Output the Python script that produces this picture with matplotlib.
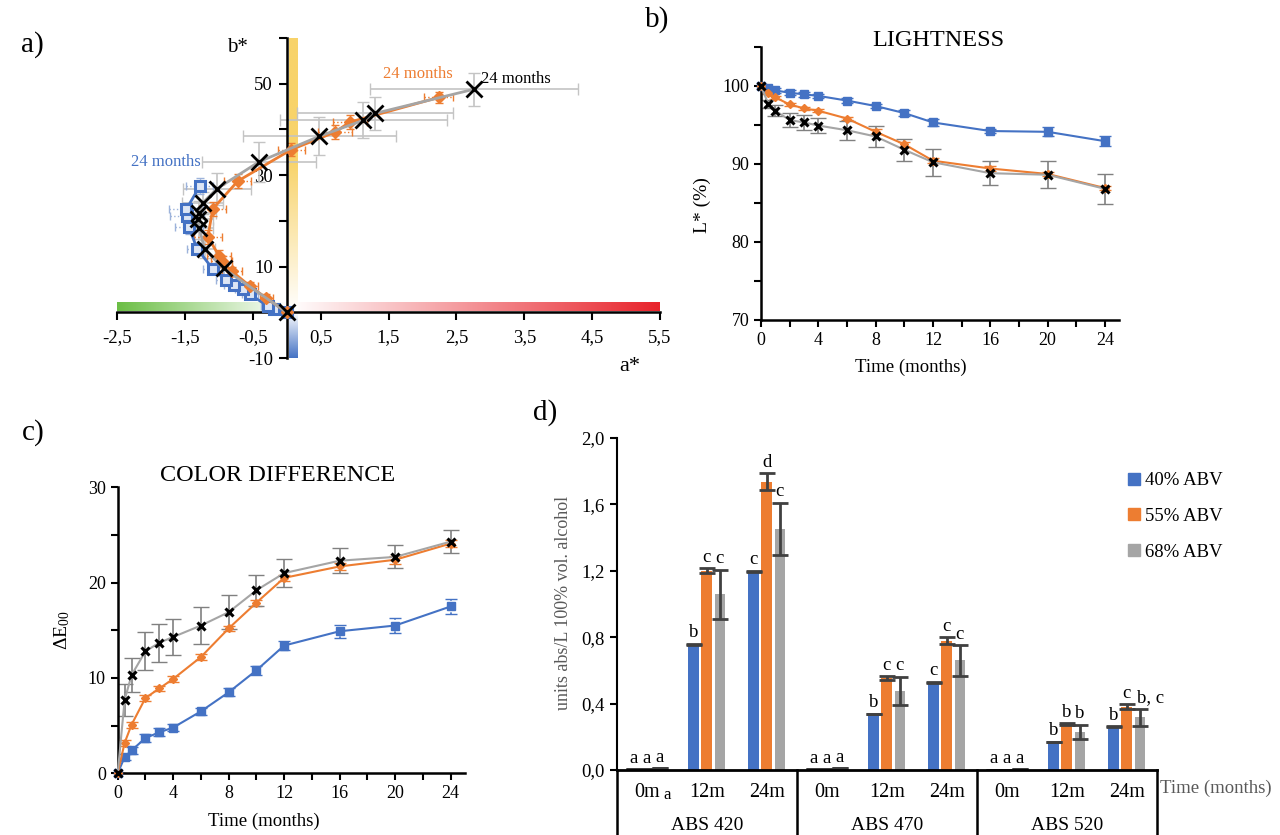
import matplotlib
matplotlib.use('Agg')
import matplotlib.pyplot as plt
import numpy as np
from matplotlib.colors import to_rgb
from matplotlib.lines import Line2D
from matplotlib.ticker import FixedLocator, FuncFormatter
import matplotlib.transforms as mtransforms

plt.rcParams['font.family'] = ['Liberation Serif', 'DejaVu Serif']
plt.rcParams['mathtext.fontset'] = 'custom'
plt.rcParams['mathtext.rm'] = 'Liberation Serif'
plt.rcParams['mathtext.it'] = 'Liberation Serif:italic'

BLUE = '#4472C4'
ORANGE = '#ED7D31'
GRAY = '#A5A5A5'

# ---------------- data ----------------
months = [0, 0.5, 1, 2, 3, 4, 6, 8, 10, 12, 16, 20, 24]

# panel a: a*, b* trajectories
a40 = [0, -0.18, -0.28, -0.54, -0.64, -0.77, -0.89, -1.09, -1.32, -1.44, -1.47, -1.48, -1.28]
b40 = [0, 0.7, 1.4, 3.9, 5.0, 6.0, 7.0, 9.5, 13.9, 18.6, 21.0, 22.5, 27.6]
a55 = [0, -0.30, -0.54, -0.81, -0.96, -1.00, -1.16, -1.09, -0.72, 0.07, 0.71, 0.93, 2.24]
b55 = [0, 3.1, 5.7, 9.0, 11.2, 12.4, 16.5, 22.6, 28.7, 35.6, 39.4, 41.6, 47.0]
a68 = [0, -0.93, -1.21, -1.29, -1.31, -1.29, -1.24, -1.03, -0.41, 0.48, 1.13, 1.30, 2.76]
b68 = [0, 9.6, 13.8, 18.5, 20.3, 21.8, 23.9, 27.0, 32.9, 38.5, 42.0, 43.5, 48.8]
a40_err = [0, 0.08, 0.10, 0.12, 0.12, 0.15, 0.15, 0.15, 0.15, 0.20, 0.25, 0.25, 0.20]
b40_err = [0, 0.5, 0.6, 0.8, 0.8, 1.0, 1.0, 1.2, 1.2, 1.5, 1.5, 1.5, 1.8]
a55_err = [0, 0.10, 0.12, 0.15, 0.15, 0.18, 0.20, 0.20, 0.20, 0.20, 0.25, 0.25, 0.21]
b55_err = [0, 0.8, 1.0, 1.0, 1.2, 1.2, 1.5, 1.5, 1.5, 1.5, 1.5, 1.5, 1.2]
a68_err = [0, 0.12, 0.15, 0.20, 0.22, 0.25, 0.30, 0.50, 0.84, 1.13, 1.23, 1.15, 1.53]
b68_err = [0, 1.5, 2.0, 2.5, 2.5, 2.5, 2.5, 3.5, 4.3, 4.2, 3.9, 3.6, 3.6]

# panel b: lightness
L40 = [100, 99.7, 99.4, 99.1, 98.9, 98.7, 98.1, 97.4, 96.5, 95.3, 94.2, 94.1, 92.9]
L55 = [100, 99.1, 98.5, 97.6, 97.1, 96.8, 95.8, 94.1, 92.5, 90.4, 89.4, 88.7, 86.9]
L68 = [100, 97.7, 96.8, 95.6, 95.3, 94.9, 94.3, 93.5, 91.8, 90.2, 88.8, 88.6, 86.8]
L40_err = [0.2, 0.2, 0.3, 0.3, 0.3, 0.3, 0.3, 0.3, 0.4, 0.5, 0.3, 0.6, 0.6]
L55_err = [0.1, 0.2, 0.2, 0.2, 0.2, 0.2, 0.2, 0.3, 0.3, 0.3, 0.3, 0.3, 0.3]
L68_err = [0, 0.5, 0.7, 0.9, 1.0, 1.0, 1.2, 1.3, 1.4, 1.7, 1.5, 1.7, 1.9]

# panel c: color difference
dE40 = [0, 1.7, 2.4, 3.7, 4.3, 4.8, 6.5, 8.5, 10.8, 13.4, 14.9, 15.5, 17.5]
dE55 = [0, 3.2, 5.1, 7.9, 8.9, 9.9, 12.2, 15.2, 17.9, 20.5, 21.7, 22.4, 24.1]
dE68 = [0, 7.7, 10.3, 12.8, 13.7, 14.3, 15.5, 16.9, 19.2, 21.0, 22.3, 22.7, 24.3]
dE40_err = [0, 0.3, 0.4, 0.4, 0.4, 0.4, 0.4, 0.4, 0.5, 0.5, 0.7, 0.8, 0.8]
dE55_err = [0, 0.3, 0.3, 0.3, 0.3, 0.3, 0.3, 0.3, 0.3, 0.3, 0.4, 0.4, 0.4]
dE68_err = [0, 1.7, 1.8, 2.0, 2.0, 1.9, 1.9, 1.8, 1.6, 1.5, 1.3, 1.2, 1.2]

# panel d: absorbances
groups = ['ABS 420', 'ABS 470', 'ABS 520']
times = ['0m', '12m', '24m']
series = ['40% ABV', '55% ABV', '68% ABV']
abs40 = [0.004, 0.757, 1.198, 0.004, 0.337, 0.529, 0.003, 0.168, 0.262]
abs55 = [0.004, 1.200, 1.737, 0.004, 0.555, 0.780, 0.003, 0.277, 0.381]
abs68 = [0.010, 1.058, 1.453, 0.010, 0.477, 0.661, 0.004, 0.230, 0.317]
err40 = [0, 0.003, 0.003, 0, 0.002, 0.002, 0, 0.002, 0.002]
err55 = [0, 0.015, 0.050, 0, 0.010, 0.020, 0, 0.005, 0.015]
err68 = [0, 0.148, 0.157, 0, 0.085, 0.092, 0, 0.044, 0.052]
let40 = ['a', 'b', 'c', 'a', 'b', 'c', 'a', 'b', 'b']
let55 = ['a', 'c', 'd', 'a', 'c', 'c', 'a', 'b', 'c']
let68 = ['a', 'c', 'c', 'a', 'c', 'c', 'a', 'b', 'b, c']

# ---------------- figure ----------------
W, H = 1280, 835
fig = plt.figure(figsize=(W / 100, H / 100), dpi=100)


def ftxt(x, y, s, **kw):
    kw.setdefault('ha', 'center')
    kw.setdefault('va', 'center')
    fig.text(x / W, 1 - y / H, s, **kw)


def rect(x0, y0, x1, y1):
    return [x0 / W, 1 - y1 / H, (x1 - x0) / W, (y1 - y0) / H]


comma = FuncFormatter(lambda v, p: ('%.1f' % v).replace('.', ','))

# ---------- panel a ----------
axA = fig.add_axes(rect(117, 38, 660, 358))


def gradient(ax, extent, c0, c1, horizontal, n=256):
    c0 = np.array(to_rgb(c0))
    c1 = np.array(to_rgb(c1))
    t = np.linspace(0, 1, n)
    cols = c0[None, :] * (1 - t[:, None]) + c1[None, :] * t[:, None]
    arr = cols[None, :, :] if horizontal else cols[:, None, :]
    ax.imshow(arr, extent=extent, aspect='auto', interpolation='bilinear', zorder=0)


gradient(axA, [-2.5, 0, 0.2, 2.1], '#6BBE45', '#FFFFFF', True)
gradient(axA, [0.05, 5.5, 0.2, 2.1], '#FFFFFF', '#E8232B', True)
ny = 256
t = np.linspace(0, 1, ny)
yel = np.array(to_rgb('#F8D36A'))
wht = np.ones(3)
w = np.clip((t - 0.45) / 0.55, 0, 1)[:, None]
cols = yel[None, :] * (1 - w) + wht[None, :] * w
axA.imshow(cols[:, None, :], extent=[0.04, 0.17, 0, 60], aspect='auto', interpolation='bilinear', zorder=0)
gradient(axA, [0.04, 0.17, -10, 0], '#FFFFFF', '#4472C4', False)

axA.errorbar(a68, b68, xerr=a68_err, yerr=b68_err, fmt='none', ecolor='#C4C4C4',
             elinewidth=1.2, capsize=4, zorder=2)
eb = axA.errorbar(a55, b55, xerr=a55_err, yerr=b55_err, fmt='none', ecolor=ORANGE,
                  elinewidth=1.0, capsize=3, zorder=2)
eb[2][0].set_linestyle(':'); eb[2][1].set_linestyle(':')
eb = axA.errorbar(a40, b40, xerr=a40_err, yerr=b40_err, fmt='none', ecolor='#9DB3DB',
                  elinewidth=1.0, capsize=3, zorder=2)
eb[2][0].set_linestyle(':'); eb[2][1].set_linestyle(':')

axA.plot(a40, b40, '-', color=BLUE, lw=2, marker='s', ms=6.5, mfc='#DDE6F5', mec=BLUE, mew=2.2, zorder=3)
axA.plot(a55, b55, '-', color=ORANGE, lw=2, marker='D', ms=6, mfc=ORANGE, mec=ORANGE, zorder=4)
axA.plot(a68, b68, '-', color=GRAY, lw=2, zorder=5)
axA.plot(a68, b68, 'x', color='black', ms=11, mew=2, zorder=6)

axA.set_xlim(-2.5, 5.5)
axA.set_ylim(-10, 60)
for s in ['top', 'right']:
    axA.spines[s].set_visible(False)
axA.spines['left'].set_position(('data', 0))
axA.spines['bottom'].set_position(('data', 0))
axA.spines['left'].set_linewidth(1.8)
axA.spines['bottom'].set_linewidth(1.8)
axA.set_xticks(np.arange(-2.5, 5.6, 1.0))
axA.xaxis.set_major_formatter(comma)
axA.set_yticks([-10, 0, 10, 20, 30, 40, 50, 60])
axA.set_yticklabels(['-10', '', '10', '', '30', '', '50', ''])
axA.tick_params(axis='x', direction='out', length=6, width=1.5, labelsize=13.5, pad=6)
axA.tick_params(axis='y', direction='out', length=6, width=1.5, labelsize=13.5, pad=4)
axA.text(-1.78, 32.8, '24 months', color=BLUE, fontsize=12, ha='center', va='center')
axA.text(1.94, 52.2, '24 months', color=ORANGE, fontsize=12, ha='center', va='center')
axA.text(3.38, 51.1, '24 months', color='black', fontsize=12, ha='center', va='center')
ftxt(237, 48, 'b*', fontsize=15)
ftxt(630, 366, 'a*', fontsize=16)
ftxt(32, 45, 'a)', fontsize=21)


def timecourse(ax, y40, e40, y55, e55, y68, e68):
    eb = ax.errorbar(months, y40, yerr=e40, fmt='none', ecolor=BLUE, elinewidth=1.2, capsize=4, zorder=2)
    eb[2][0].set_linestyle(':')
    eb = ax.errorbar(months, y55, yerr=e55, fmt='none', ecolor=ORANGE, elinewidth=1.0, capsize=4, zorder=2)
    eb[2][0].set_linestyle(':')
    ax.errorbar(months, y68, yerr=e68, fmt='none', ecolor='#808080', elinewidth=1.2, capsize=6, zorder=2)
    ax.plot(months, y40, '-', color=BLUE, lw=1.5, marker='s', ms=6, zorder=3, clip_on=False)
    ax.plot(months, y55, '-', color=ORANGE, lw=1.5, marker='D', ms=4.5, zorder=4, clip_on=False)
    ax.plot(months, y68, '-', color=GRAY, lw=1.5, zorder=5, clip_on=False)
    ax.plot(months, y68, 'x', color='black', ms=6, mew=2.2, zorder=6, clip_on=False)
    ax.set_xlim(0, 25)
    ax.xaxis.set_major_locator(FixedLocator(np.arange(0, 25, 2)))
    ax.xaxis.set_major_formatter(FuncFormatter(lambda v, p: '%d' % v if v % 4 == 0 else ''))
    for s in ['top', 'right']:
        ax.spines[s].set_visible(False)
    ax.spines['left'].set_linewidth(1.8)
    ax.spines['bottom'].set_linewidth(1.8)
    ax.tick_params(direction='out', length=5, width=1.5, labelsize=13)


# ---------- panel b ----------
axB = fig.add_axes(rect(761, 46.7, 1119.3, 320))
timecourse(axB, L40, L40_err, L55, L55_err, L68, L68_err)
axB.set_ylim(70, 105)
axB.yaxis.set_major_locator(FixedLocator(np.arange(70, 106, 5)))
axB.yaxis.set_major_formatter(FuncFormatter(lambda v, p: '%d' % v if v % 10 == 0 else ''))
ftxt(938, 40, 'LIGHTNESS', fontsize=17.5)
ftxt(702, 205, 'L* (%)', fontsize=14, rotation=90)
ftxt(911, 367, 'Time (months)', fontsize=13.5)
ftxt(657, 20, 'b)', fontsize=21)

# ---------- panel c ----------
axC = fig.add_axes(rect(117.7, 487.3, 464.5, 773.3))
timecourse(axC, dE40, dE40_err, dE55, dE55_err, dE68, dE68_err)
axC.set_ylim(0, 30)
axC.yaxis.set_major_locator(FixedLocator(np.arange(0, 31, 5)))
axC.yaxis.set_major_formatter(FuncFormatter(lambda v, p: '%d' % v if v % 10 == 0 else ''))
ftxt(278, 476, 'COLOR DIFFERENCE', fontsize=17.5)
ftxt(62, 630, r'$\Delta$E$_{00}$', fontsize=14, rotation=90)
ftxt(264, 821, 'Time (months)', fontsize=13.5)
ftxt(33, 433, 'c)', fontsize=21)

# ---------- panel d ----------
axD = fig.add_axes(rect(616.7, 438, 1156.7, 770))
x = np.arange(len(abs40))
off = 0.22
bw = 0.18
ekw = dict(ecolor='#404040', elinewidth=2, capsize=6, capthick=2)
axD.bar(x - off, abs40, bw, color=BLUE, yerr=err40, error_kw=ekw, zorder=2)
axD.bar(x, abs55, bw, color=ORANGE, yerr=err55, error_kw=ekw, zorder=2)
axD.bar(x + off, abs68, bw, color=GRAY, yerr=err68, error_kw=ekw, zorder=2)
for vals, errs, lets, dx in [(abs40, err40, let40, -off), (abs55, err55, let55, 0), (abs68, err68, let68, off)]:
    for i in range(len(vals)):
        lab = lets[i]
        xx = i + dx
        ha = 'center'
        if ',' in lab:
            ha = 'left'
            xx = i + dx - 0.05
        axD.text(xx, vals[i] + errs[i] + 0.015, lab, ha=ha, va='bottom', fontsize=13.5)
axD.set_xlim(-0.5, 8.5)
axD.set_ylim(0, 2.0)
axD.set_yticks(np.arange(0, 2.01, 0.4))
axD.yaxis.set_major_formatter(comma)
axD.set_xticks([])
for s in ['top', 'right']:
    axD.spines[s].set_visible(False)
axD.spines['left'].set_linewidth(1.5)
axD.spines['bottom'].set_linewidth(2)
axD.tick_params(axis='y', direction='out', length=5, width=1.5, labelsize=13.5)
trans = mtransforms.blended_transform_factory(axD.transData, axD.transAxes)
ybot = -(835 - 770) / 332
for xs in [-0.5, 2.5, 5.5, 8.5]:
    axD.plot([xs, xs], [0, ybot], color='black', lw=1.8, transform=trans, clip_on=False)
for gi, g in enumerate(groups):
    for ti, tm in enumerate(times):
        axD.text(gi * 3 + ti, -0.069, tm, transform=trans, ha='center', va='center', fontsize=14.5)
    axD.text(gi * 3 + 1, -0.166, g, transform=trans, ha='center', va='center', fontsize=14)
axD.text(0.34, -0.075, 'a', transform=trans, ha='center', va='center', fontsize=12)
ftxt(1216, 788, 'Time (months)', fontsize=13.5, color='#595959')
ftxt(563, 603, 'units abs/L 100% vol. alcohol', fontsize=13, color='#595959', rotation=90)
ftxt(545, 413, 'd)', fontsize=21)

handles = [Line2D([], [], ls='none', marker='s', ms=8, color=c) for c in (BLUE, ORANGE, GRAY)]
fig.legend(handles, series, loc='upper left', bbox_to_anchor=(1128 / W, 1 - 472 / H),
           frameon=False, fontsize=13.5, labelspacing=1.0, handlelength=0.6, handletextpad=0.3,
           borderaxespad=0, borderpad=0)

fig.savefig('out.png', dpi=100)
